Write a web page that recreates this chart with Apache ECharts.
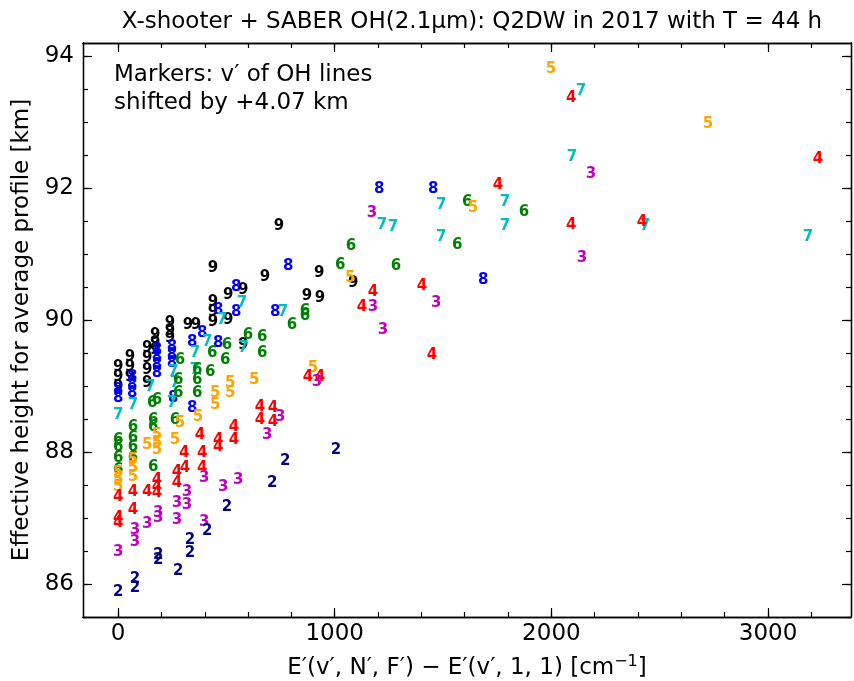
<!DOCTYPE html>
<html>
<head>
<meta charset="utf-8">
<script src="https://cdn.jsdelivr.net/npm/echarts@6.0.0/dist/echarts.min.js"></script>
<style>html,body{margin:0;padding:0;background:#fff}#c{width:854px;height:681px}</style>
</head>
<body>
<div id="c"></div>
<script>
// [E' - E'(v',1,1) in cm^-1, effective height in km] for each v'
const v2 = [[0,85.88],[78,86.08],[78,85.94],[185,86.44],[185,86.36],[277,86.20],[332,86.67],[332,86.47],[411,86.80],[503,87.17],[711,87.53],[771,87.86],[1006,88.03]];
const v3 = [[0,86.48],[78,86.82],[78,86.64],[134,86.91],[185,87.08],[185,87.00],[272,86.97],[272,87.23],[318,87.39],[318,87.20],[397,87.61],[397,86.94],[485,87.47],[554,87.58],[688,88.26],[748,88.53],[918,89.06],[1177,90.20],[1172,91.62],[1223,89.85],[1468,90.26],[2141,90.94],[2183,92.21]];
const v4 = [[0,87.32],[0,87.00],[0,86.92],[69,87.39],[69,87.12],[134,87.39],[180,87.58],[180,87.47],[180,87.38],[272,87.70],[272,87.53],[309,87.76],[305,87.98],[388,87.98],[388,87.76],[378,88.26],[462,88.08],[462,88.18],[535,88.38],[535,88.18],[655,88.68],[655,88.48],[715,88.67],[715,88.45],[877,89.14],[932,89.14],[1126,90.20],[1177,90.42],[1403,90.52],[1449,89.47],[1754,92.05],[2091,93.36],[2091,91.44],[2418,91.48],[3231,92.44]];
const v5 = [[0,87.68],[0,87.58],[0,87.47],[69,87.88],[69,87.76],[69,87.62],[134,88.11],[180,88.26],[180,88.14],[180,88.03],[263,88.18],[286,88.44],[369,88.53],[448,88.89],[448,88.71],[517,89.05],[517,88.89],[628,89.09],[900,89.27],[1071,90.64],[1638,91.70],[1998,93.80],[2723,92.97]];
const v6 = [[0,88.18],[0,88.08],[0,87.91],[0,87.73],[69,88.38],[69,88.21],[69,88.08],[69,87.91],[162,88.48],[162,88.38],[162,87.77],[157,88.74],[180,88.79],[263,88.48],[277,89.09],[277,88.89],[286,89.39],[365,89.24],[365,89.09],[365,88.89],[425,89.21],[434,89.50],[494,89.39],[503,89.62],[600,89.77],[665,89.74],[665,89.50],[803,89.92],[863,90.14],[863,90.06],[1025,90.83],[1075,91.12],[1283,90.82],[1565,91.14],[1611,91.79],[1874,91.64]];
const v7 = [[0,88.56],[69,88.71],[148,88.98],[249,88.74],[263,89.05],[254,89.21],[355,89.50],[355,89.24],[411,89.67],[577,89.58],[480,90.00],[572,90.26],[761,90.12],[1218,91.44],[1269,91.41],[1491,91.26],[1491,91.74],[1786,91.42],[1786,91.79],[2095,92.47],[2137,93.47],[2432,91.42],[3184,91.26]];
const v8 = [[0,88.94],[0,88.82],[65,89.14],[65,89.02],[65,88.89],[180,89.55],[180,89.44],[180,89.32],[180,89.20],[249,89.59],[249,89.47],[249,89.35],[254,88.82],[342,89.67],[342,88.67],[388,89.80],[462,89.65],[462,90.15],[545,90.50],[545,90.12],[725,90.12],[785,90.82],[1205,91.98],[1454,91.98],[1685,90.61]];
const v9 = [[0,89.29],[0,89.14],[0,88.98],[55,89.44],[55,89.29],[55,89.14],[134,89.58],[134,89.42],[134,89.24],[134,89.05],[171,89.77],[171,89.65],[171,89.55],[240,89.95],[240,89.83],[240,89.73],[323,89.92],[360,89.92],[438,89.97],[438,90.27],[438,90.12],[508,90.00],[508,90.38],[577,90.45],[438,90.79],[577,89.62],[678,90.65],[872,90.36],[932,90.33],[928,90.71],[1085,90.56],[743,91.42]];

const vLevels = [9, 8, 7, 6, 5, 4, 3, 2];
const seriesData = {2: v2, 3: v3, 4: v4, 5: v5, 6: v6, 7: v7, 8: v8, 9: v9};
const colors = {2:'#000080', 3:'#bf00bf', 4:'#ff0000', 5:'#ffa500', 6:'#008000', 7:'#00bfbf', 8:'#0000ff', 9:'#000000'};

const xMajor = [0, 1000, 2000, 3000];
const xMinor = [0,200,400,600,800,1000,1200,1400,1600,1800,2000,2200,2400,2600,2800,3000,3200];
const yMajor = [86, 88, 90, 92, 94];
const yMinor = [85.5,86,86.5,87,87.5,88,88.5,89,89.5,90,90.5,91,91.5,92,92.5,93,93.5,94];

const FONT = 'DejaVu Sans';
const FS = 23;
const X_MIN = -162, X_MAX = 3383, Y_MIN = 85.5, Y_MAX = 94.2;

function xAx(pos, ticks, len, labels, name) {
  return {
    type: 'value', position: pos, min: X_MIN, max: X_MAX,
    axisLine: {show: true, onZero: false, lineStyle: {color: '#000', width: 1.3}},
    axisTick: {show: true, inside: true, length: len, customValues: ticks, lineStyle: {color: '#000', width: 1.2}},
    axisLabel: labels ? {show: true, customValues: xMajor, formatter: v => String(v), fontSize: FS, fontFamily: FONT, color: '#000', margin: 6} : {show: false},
    splitLine: {show: false},
    name: name || '', nameLocation: 'middle', nameGap: 37,
    nameTextStyle: {fontSize: FS, fontFamily: FONT, color: '#000',
      rich: {a: {fontSize: FS, fontFamily: FONT, color: '#000', lineHeight: 28},
             s: {fontSize: 16, fontFamily: FONT, color: '#000', verticalAlign: 'top', lineHeight: 28, padding: [0, 0, 8, 0]}}}
  };
}
function yAx(pos, ticks, len, labels, name) {
  return {
    type: 'value', position: pos, min: Y_MIN, max: Y_MAX,
    axisLine: {show: true, onZero: false, lineStyle: {color: '#000', width: 1.3}},
    axisTick: {show: true, inside: true, length: len, customValues: ticks, lineStyle: {color: '#000', width: 1.2}},
    axisLabel: labels ? {show: true, customValues: yMajor, formatter: v => String(v), fontSize: FS, fontFamily: FONT, color: '#000', margin: 9} : {show: false},
    splitLine: {show: false},
    name: name || '', nameLocation: 'middle', nameGap: 46,
    nameTextStyle: {fontSize: FS, fontFamily: FONT, color: '#000'}
  };
}

const series = vLevels.map(v => ({
  type: 'scatter', xAxisIndex: 0, yAxisIndex: 0,
  data: seriesData[v],
  symbol: 'circle', symbolSize: 1,
  itemStyle: {color: 'rgba(0,0,0,0)', opacity: 1},
  label: {show: true, position: 'inside', formatter: String(v), color: colors[v], opacity: 1,
          fontSize: 15, fontWeight: 'bold', fontFamily: FONT},
  emphasis: {disabled: true},
  silent: true
}));

const chart = echarts.init(document.getElementById('c'), null, {renderer: 'canvas'});
chart.setOption({
  animation: false,
  backgroundColor: '#fff',
  title: {
    text: 'X-shooter + SABER OH(2.1μm): Q2DW in 2017 with T = 44 h',
    left: 467, top: 6, textAlign: 'center',
    textStyle: {fontSize: FS, fontWeight: 'normal', fontFamily: FONT, color: '#000'}
  },
  grid: {left: 83, right: 3, top: 43, bottom: 64, containLabel: false, outerBoundsMode: 'none'},
  xAxis: [
    xAx('bottom', xMajor, 9, true, '{a|E′(v′, N′, F′) − E′(v′, 1, 1) [cm}{s|−1}{a|]}'),
    xAx('bottom', xMinor, 5, false),
    xAx('top', xMajor, 9, false),
    xAx('top', xMinor, 5, false)
  ],
  yAxis: [
    yAx('left', yMajor, 9, true, 'Effective height for average profile [km]'),
    yAx('left', yMinor, 5, false),
    yAx('right', yMajor, 9, false),
    yAx('right', yMinor, 5, false)
  ],
  graphic: [{
    type: 'text', left: 114, top: 61,
    style: {text: 'Markers: v′ of OH lines\nshifted by +4.07 km', font: FS + 'px "DejaVu Sans"', fill: '#000', lineHeight: 28}
  }],
  series: series
});
</script>
</body>
</html>
